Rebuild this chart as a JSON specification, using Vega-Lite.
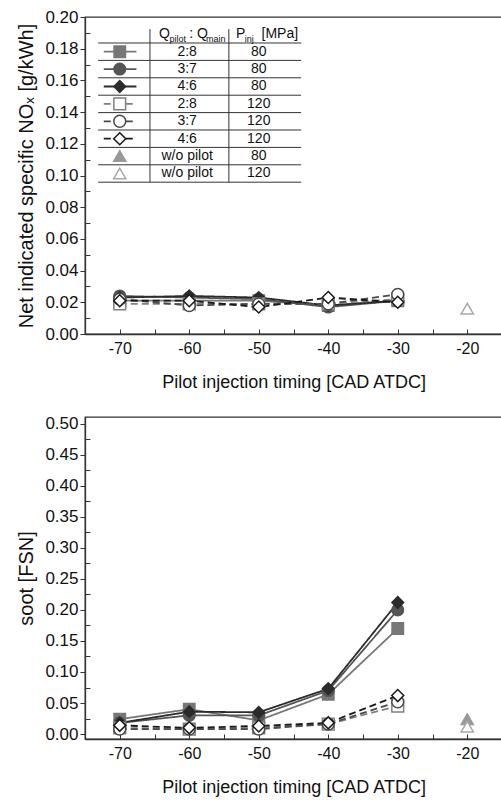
{
  "$schema": "https://vega.github.io/schema/vega-lite/v6.json",
  "padding": {"left": 16, "top": 7, "right": 1, "bottom": 0},
  "spacing": 22,
  "config": {
    "view": {"stroke": "#333333", "strokeWidth": 1.3},
    "font": "Liberation Sans",
    "axis": {"grid": false, "domainColor": "#333333", "domainWidth": 1.3, "tickColor": "#333333", "labelColor": "#111111", "titleColor": "#111111", "labelFontSize": 16, "titleFontSize": 18, "titleFontWeight": "normal", "labelFont": "Liberation Sans", "titleFont": "Liberation Sans", "labelOverlap": false}
  },
  "datasets": {
    "main": [
      {"t": -70, "s": "A", "nox": 0.021, "soot": 0.024},
      {"t": -60, "s": "A", "nox": 0.021, "soot": 0.040},
      {"t": -50, "s": "A", "nox": 0.021, "soot": 0.022},
      {"t": -40, "s": "A", "nox": 0.018, "soot": 0.064},
      {"t": -30, "s": "A", "nox": 0.021, "soot": 0.170},
      {"t": -70, "s": "B", "nox": 0.024, "soot": 0.018},
      {"t": -60, "s": "B", "nox": 0.023, "soot": 0.030},
      {"t": -50, "s": "B", "nox": 0.022, "soot": 0.030},
      {"t": -40, "s": "B", "nox": 0.017, "soot": 0.070},
      {"t": -30, "s": "B", "nox": 0.021, "soot": 0.200},
      {"t": -70, "s": "C", "nox": 0.023, "soot": 0.018},
      {"t": -60, "s": "C", "nox": 0.024, "soot": 0.036},
      {"t": -50, "s": "C", "nox": 0.023, "soot": 0.035},
      {"t": -40, "s": "C", "nox": 0.018, "soot": 0.073},
      {"t": -30, "s": "C", "nox": 0.021, "soot": 0.212},
      {"t": -70, "s": "D", "nox": 0.019, "soot": 0.010},
      {"t": -60, "s": "D", "nox": 0.019, "soot": 0.008},
      {"t": -50, "s": "D", "nox": 0.019, "soot": 0.010},
      {"t": -40, "s": "D", "nox": 0.019, "soot": 0.016},
      {"t": -30, "s": "D", "nox": 0.022, "soot": 0.045},
      {"t": -70, "s": "E", "nox": 0.022, "soot": 0.008},
      {"t": -60, "s": "E", "nox": 0.018, "soot": 0.008},
      {"t": -50, "s": "E", "nox": 0.019, "soot": 0.008},
      {"t": -40, "s": "E", "nox": 0.019, "soot": 0.016},
      {"t": -30, "s": "E", "nox": 0.025, "soot": 0.052},
      {"t": -70, "s": "F", "nox": 0.021, "soot": 0.014},
      {"t": -60, "s": "F", "nox": 0.021, "soot": 0.010},
      {"t": -50, "s": "F", "nox": 0.017, "soot": 0.013},
      {"t": -40, "s": "F", "nox": 0.023, "soot": 0.018},
      {"t": -30, "s": "F", "nox": 0.020, "soot": 0.062},
      {"t": -20, "s": "G", "nox": null, "soot": 0.024},
      {"t": -20, "s": "H", "nox": 0.016, "soot": 0.012}
    ],
    "legend": [
      {"rank": 1, "s": "A", "ratio": "2:8", "pinj": "80"},
      {"rank": 2, "s": "B", "ratio": "3:7", "pinj": "80"},
      {"rank": 3, "s": "C", "ratio": "4:6", "pinj": "80"},
      {"rank": 4, "s": "D", "ratio": "2:8", "pinj": "120"},
      {"rank": 5, "s": "E", "ratio": "3:7", "pinj": "120"},
      {"rank": 6, "s": "F", "ratio": "4:6", "pinj": "120"},
      {"rank": 7, "s": "G", "ratio": "w/o pilot", "pinj": "80"},
      {"rank": 8, "s": "H", "ratio": "w/o pilot", "pinj": "120"}
    ]
  },
  "vconcat": [
    {
      "width": 417,
      "height": 317,
      "resolve": {"scale": {"y": "independent"}},
      "layer": [
        {
          "data": {"name": "main"},
          "transform": [{"filter": "datum.nox != null"}],
          "mark": {"type": "line", "strokeWidth": 1.8},
          "encoding": {
            "x": {"field": "t", "type": "quantitative", "scale": {"domain": [-75, -15], "nice": false, "zero": false},
              "axis": {"values": [-70, -65, -60, -55, -50, -45, -40, -35, -30, -25, -20], "tickCount": 30, "labelExpr": "datum.value % 10 === 0 ? '' + datum.value : ''", "tickSize": -5, "labelPadding": 11, "labelOverlap": false, "title": "Pilot injection timing [CAD ATDC]", "titlePadding": 17}},
            "y": {"field": "nox", "type": "quantitative", "scale": {"domain": [0, 0.2], "nice": false},
              "axis": {"values": [0, 0.02, 0.04, 0.06, 0.08, 0.1, 0.12, 0.14, 0.16, 0.18, 0.2], "tickCount": 30, "labelExpr": "format(datum.value, '.2f')", "labelFontSize": 17, "tickSize": 5, "labelPadding": 2, "title": "Net indicated specific NOₓ [g/kWh]", "titleFontSize": 20, "titlePadding": 8}},
            "stroke": {"field": "s", "type": "nominal", "legend": null, "scale": {"domain": ["A","B","C","D","E","F","G","H"], "range": ["#777777","#555555","#2b2b2b","#808080","#4a4a4a","#1a1a1a","#999999","#a8a8a8"]}},
            "strokeDash": {"field": "s", "type": "nominal", "legend": null, "scale": {"domain": ["A","B","C","D","E","F","G","H"], "range": [[1,0],[1,0],[1,0],[7,4],[7,4],[7,4],[1,0],[1,0]]}}
          }
        },
        {
          "data": {"name": "main"},
          "transform": [{"filter": "datum.nox != null"}],
          "mark": {"type": "point", "opacity": 1, "strokeWidth": 1.5},
          "encoding": {
            "x": {"field": "t", "type": "quantitative", "scale": {"domain": [-75, -15], "nice": false, "zero": false}},
            "y": {"field": "nox", "type": "quantitative", "scale": {"domain": [0, 0.2], "nice": false},
              "axis": {"orient": "left", "values": [0.01, 0.03, 0.05, 0.07, 0.09, 0.11, 0.13, 0.15, 0.17, 0.19], "tickCount": 30, "labels": false, "domain": false, "tickSize": -5, "title": null}},
            "stroke": {"field": "s", "type": "nominal", "legend": null},
            "fill": {"field": "s", "type": "nominal", "legend": null, "scale": {"domain": ["A","B","C","D","E","F","G","H"], "range": ["#777777","#555555","#2b2b2b","#ffffff","#ffffff","#ffffff","#999999","#ffffff"]}},
            "shape": {"field": "s", "type": "nominal", "legend": null, "scale": {"domain": ["A","B","C","D","E","F","G","H"], "range": ["square","circle","diamond","square","circle","diamond","triangle-up","triangle-up"]}},
            "size": {"field": "s", "type": "nominal", "legend": null, "scale": {"domain": ["A","B","C","D","E","F","G","H"], "range": [130,150,230,130,150,230,190,190]}}
          }
        },
        {
          "layer": [
            {
              "data": {"name": "legend"},
              "mark": {"type": "rule", "strokeWidth": 1, "color": "#333333", "yOffset": 8.7},
              "encoding": {
                "x": {"datum": -73.1, "type": "quantitative", "scale": {"domain": [-75, -15], "nice": false, "zero": false}},
                "x2": {"datum": -43.9},
                "y": {"field": "rank", "type": "quantitative", "scale": {"domain": [-0.994, 17.224], "reverse": true, "nice": false, "zero": false}, "axis": null}
              }
            },
            {
              "data": {"values": [{}]},
              "mark": {"type": "rule", "strokeWidth": 1, "color": "#333333", "yOffset": 8.7},
              "encoding": {
                "x": {"datum": -73.1, "type": "quantitative"},
                "x2": {"datum": -43.9},
                "y": {"datum": 0, "type": "quantitative"}
              }
            },
            {
              "data": {"values": [{}]},
              "mark": {"type": "rule", "strokeWidth": 1, "color": "#333333"},
              "encoding": {
                "x": {"datum": -65.65, "type": "quantitative"},
                "y": {"datum": -0.3, "type": "quantitative"},
                "y2": {"datum": 8.5}
              }
            },
            {
              "data": {"values": [{}]},
              "mark": {"type": "rule", "strokeWidth": 1, "color": "#333333"},
              "encoding": {
                "x": {"datum": -54.3, "type": "quantitative"},
                "y": {"datum": -0.3, "type": "quantitative"},
                "y2": {"datum": 8.5}
              }
            },
            {
              "data": {"name": "legend"},
              "transform": [{"filter": "datum.rank <= 6"}],
              "mark": {"type": "rule", "strokeWidth": 1.8},
              "encoding": {
                "x": {"datum": -72.3, "type": "quantitative"},
                "x2": {"datum": -67.6},
                "y": {"field": "rank", "type": "quantitative"},
                "stroke": {"field": "s", "type": "nominal", "legend": null},
                "strokeDash": {"field": "s", "type": "nominal", "legend": null}
              }
            },
            {
              "data": {"name": "legend"},
              "mark": {"type": "point", "opacity": 1, "strokeWidth": 1.5},
              "encoding": {
                "x": {"datum": -70, "type": "quantitative"},
                "y": {"field": "rank", "type": "quantitative"},
                "stroke": {"field": "s", "type": "nominal", "legend": null},
                "fill": {"field": "s", "type": "nominal", "legend": null},
                "shape": {"field": "s", "type": "nominal", "legend": null},
                "size": {"field": "s", "type": "nominal", "legend": null}
              }
            },
            {
              "data": {"name": "legend"},
              "mark": {"type": "text", "fontSize": 14, "align": "center", "baseline": "middle", "color": "#111111"},
              "encoding": {
                "x": {"datum": -60.3, "type": "quantitative"},
                "y": {"field": "rank", "type": "quantitative"},
                "text": {"field": "ratio"}
              }
            },
            {
              "data": {"name": "legend"},
              "mark": {"type": "text", "fontSize": 14, "align": "center", "baseline": "middle", "color": "#111111"},
              "encoding": {
                "x": {"datum": -50, "type": "quantitative"},
                "y": {"field": "rank", "type": "quantitative"},
                "text": {"field": "pinj"}
              }
            },
            {
              "data": {"values": [{}]},
              "mark": {"type": "text", "text": "Q", "fontSize": 14, "align": "left", "baseline": "middle", "color": "#111111"},
              "encoding": {"x": {"datum": -64.35, "type": "quantitative"}, "y": {"datum": 0, "type": "quantitative"}}
            },
            {
              "data": {"values": [{}]},
              "mark": {"type": "text", "text": "pilot", "fontSize": 9, "align": "left", "baseline": "middle", "dy": 5, "color": "#111111"},
              "encoding": {"x": {"datum": -62.85, "type": "quantitative"}, "y": {"datum": 0, "type": "quantitative"}}
            },
            {
              "data": {"values": [{}]},
              "mark": {"type": "text", "text": ": Q", "fontSize": 14, "align": "left", "baseline": "middle", "color": "#111111"},
              "encoding": {"x": {"datum": -60.0, "type": "quantitative"}, "y": {"datum": 0, "type": "quantitative"}}
            },
            {
              "data": {"values": [{}]},
              "mark": {"type": "text", "text": "main", "fontSize": 9, "align": "left", "baseline": "middle", "dy": 5, "color": "#111111"},
              "encoding": {"x": {"datum": -57.6, "type": "quantitative"}, "y": {"datum": 0, "type": "quantitative"}}
            },
            {
              "data": {"values": [{}]},
              "mark": {"type": "text", "text": "P", "fontSize": 14, "align": "left", "baseline": "middle", "color": "#111111"},
              "encoding": {"x": {"datum": -53.27, "type": "quantitative"}, "y": {"datum": 0, "type": "quantitative"}}
            },
            {
              "data": {"values": [{}]},
              "mark": {"type": "text", "text": "inj", "fontSize": 9, "align": "left", "baseline": "middle", "dy": 5, "color": "#111111"},
              "encoding": {"x": {"datum": -52.0, "type": "quantitative"}, "y": {"datum": 0, "type": "quantitative"}}
            },
            {
              "data": {"values": [{}]},
              "mark": {"type": "text", "text": "[MPa]", "fontSize": 14, "align": "left", "baseline": "middle", "color": "#111111"},
              "encoding": {"x": {"datum": -49.6, "type": "quantitative"}, "y": {"datum": 0, "type": "quantitative"}}
            }
          ]
        }
      ]
    },
    {
      "width": 417,
      "height": 322,
      "data": {"name": "main"},
      "resolve": {"scale": {"y": "independent"}},
      "layer": [
        {
          "mark": {"type": "line", "strokeWidth": 1.8},
          "encoding": {
            "x": {"field": "t", "type": "quantitative", "scale": {"domain": [-75, -15], "nice": false, "zero": false},
              "axis": {"values": [-70, -65, -60, -55, -50, -45, -40, -35, -30, -25, -20], "tickCount": 30, "labelExpr": "datum.value % 10 === 0 ? '' + datum.value : ''", "tickSize": -5, "labelPadding": 11, "labelOverlap": false, "title": "Pilot injection timing [CAD ATDC]", "titlePadding": 17}},
            "y": {"field": "soot", "type": "quantitative", "scale": {"domain": [-0.008, 0.511], "nice": false, "zero": false},
              "axis": {"values": [0, 0.05, 0.1, 0.15, 0.2, 0.25, 0.3, 0.35, 0.4, 0.45, 0.5], "tickCount": 30, "labelExpr": "format(datum.value, '.2f')", "labelFontSize": 17, "tickSize": 5, "labelPadding": 2, "title": "soot [FSN]", "titleFontSize": 20, "titlePadding": 8}},
            "stroke": {"field": "s", "type": "nominal", "legend": null},
            "strokeDash": {"field": "s", "type": "nominal", "legend": null}
          }
        },
        {
          "mark": {"type": "point", "opacity": 1, "strokeWidth": 1.5},
          "encoding": {
            "x": {"field": "t", "type": "quantitative", "scale": {"domain": [-75, -15], "nice": false, "zero": false}},
            "y": {"field": "soot", "type": "quantitative", "scale": {"domain": [-0.008, 0.511], "nice": false, "zero": false},
              "axis": {"orient": "left", "values": [0.025, 0.075, 0.125, 0.175, 0.225, 0.275, 0.325, 0.375, 0.425, 0.475], "tickCount": 30, "labels": false, "domain": false, "tickSize": -5, "title": null}},
            "stroke": {"field": "s", "type": "nominal", "legend": null},
            "fill": {"field": "s", "type": "nominal", "legend": null},
            "shape": {"field": "s", "type": "nominal", "legend": null},
            "size": {"field": "s", "type": "nominal", "legend": null}
          }
        }
      ]
    }
  ]
}
